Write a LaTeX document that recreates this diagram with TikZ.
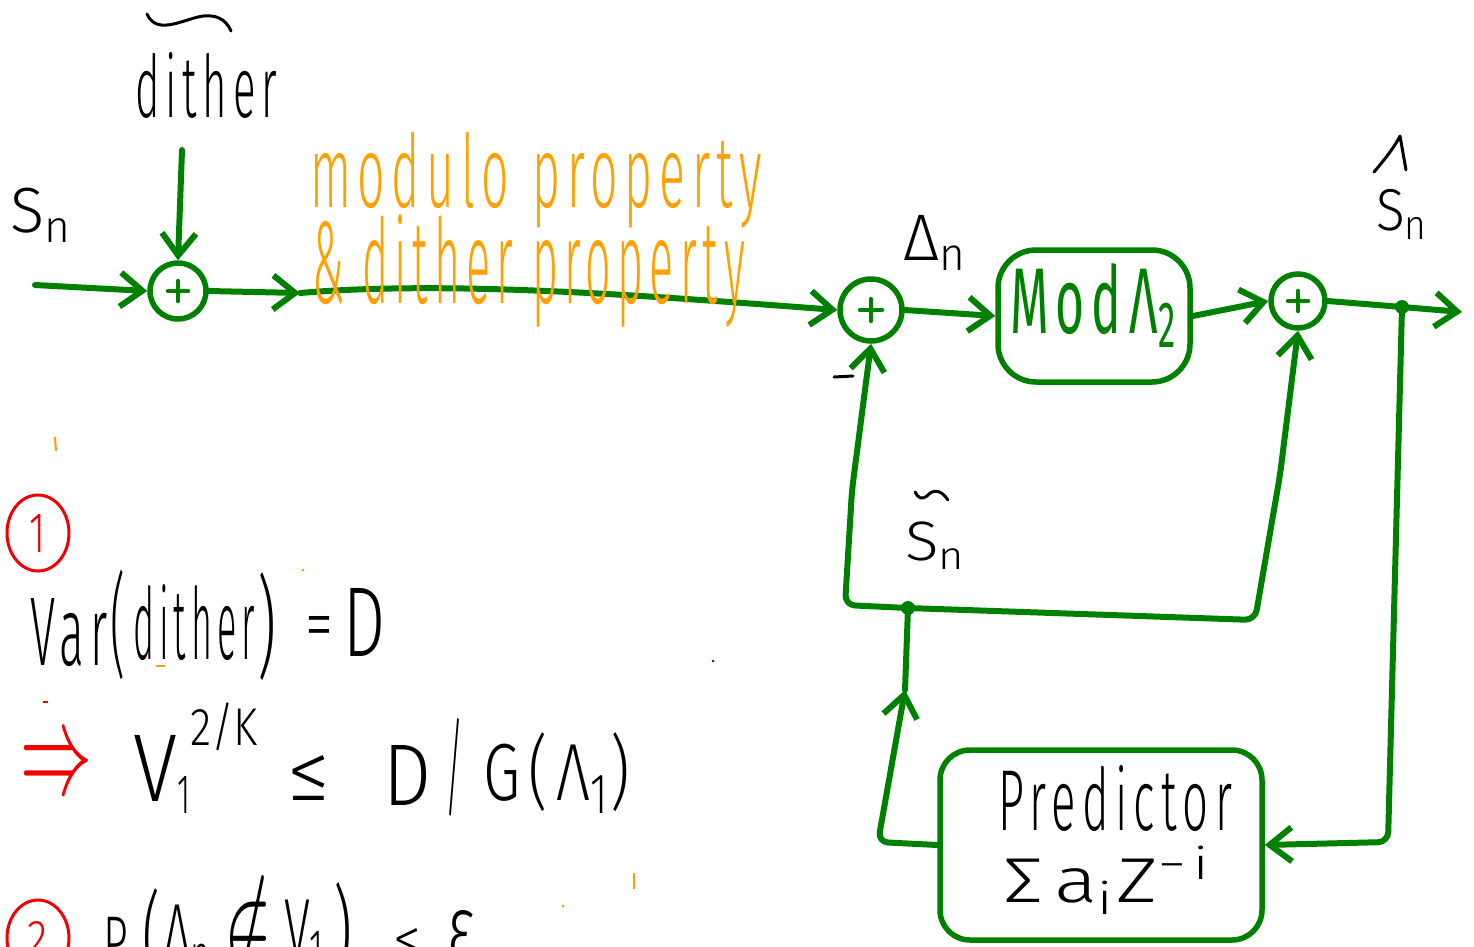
\documentclass[tikz,border=0pt]{standalone}
\usepackage{fontspec}
\usepackage{amssymb}
\setmainfont{Fira Sans Light}
\newfontfamily\firareg{Fira Sans}
\usetikzlibrary{arrows.meta,calc,shapes.geometric}
\definecolor{grn}{RGB}{0,128,0}
\definecolor{org}{RGB}{255,160,0}
\definecolor{rd}{RGB}{240,0,0}
\newcommand{\fitbx}[3]{\resizebox*{#1pt}{#2pt}{#3}}
\newcommand{\spc}{\addfontfeatures{LetterSpace=14}}
\tikzset{
  wire/.style={draw=grn,line width=6pt,line cap=round,line join=round},
  arr/.style={wire,-{Straight Barb[length=22pt,width=34pt]}},
  sumnode/.style={circle,draw=grn,line width=5.5pt,inner sep=0pt},
  blk/.style={draw=grn,line width=5.5pt,rounded corners=38pt,inner sep=0pt},
  txt/.style={inner sep=0pt,outer sep=0pt,anchor=north west},
  ink/.style={draw=black,line width=3pt,line cap=round,line join=round},
  dotn/.style={circle,fill=grn,inner sep=0pt,minimum size=14pt},
  circ/.style={draw=rd,line width=3pt,ellipse,inner sep=0pt,text=rd,minimum width=62pt,minimum height=76pt},
}
\begin{document}
\begin{tikzpicture}[x=1pt,y=-1pt]
\useasboundingbox (0,0) rectangle (1474,946);
% summing junctions
\node[sumnode,minimum size=56pt] (s1) at (178,291) {};
\node[sumnode,minimum size=62pt] (s2) at (871,310) {};
\node[sumnode,minimum size=54pt] (s3) at (1298,301) {};
\foreach \s/\r in {s1/10,s2/11,s3/10}{
  \draw[wire,line width=4.5pt] ([xshift=-\r pt]\s.center) -- ([xshift=\r pt]\s.center);
  \draw[wire,line width=4.5pt] ([yshift=-\r pt]\s.center) -- ([yshift=\r pt]\s.center);
}
% blocks
\node[blk,minimum width=192pt,minimum height=132pt] (mod) at (1094,316) {};
\node[txt,text=grn] (lmod) at (1010,263) {\firareg\spc\fitbx{168}{84}{Mod\,Λ\textsubscript{2}}};
\node[blk,rounded corners=30pt,minimum width=322pt,minimum height=190pt] (pred) at (1101,845) {};
\node[txt] (lpr) at (998,765) {\spc\fitbx{234}{66}{Predictor}};
\node[txt] (lsum) at (1003,846) {\spc\fitbx{210}{68}{Σa\textsubscript{i}Z\textsuperscript{−i}}};
% coordinates
\coordinate (in) at (35,285);
\coordinate (dsrc) at (182,150);
\coordinate (m1) at (300,293);
\coordinate (out) at (1462,312);
\coordinate (j1) at (1402,307);
\coordinate (j2) at (908,608);
\coordinate (r1) at (1388,842);
\coordinate (l1) at (878,842);
\coordinate (m2) at (905,690);
\coordinate (c1) at (845,605);
\coordinate (c2) at (852,490);
\coordinate (c3) at (1255,620);
\coordinate (c4) at (1280,475);
% connectors
\draw[arr] (in) -- (s1.west);
\draw[arr] (dsrc) -- (s1.north);
\draw[arr] (s1.east) -- (m1);
\draw[arr] (m1) .. controls (450,280) and (650,296) .. (s2.west);
\draw[arr] (s2.east) -- (mod.west);
\draw[arr] (mod.east) -- (s3.west);
\draw[arr] (s3.east) -- (j1) -- (out);
\draw[arr,rounded corners=10pt] (j1) -- (r1) -- (pred.east);
\draw[arr,rounded corners=10pt] (pred.west) -- (l1) -- (m2);
\draw[wire] (m2) -- (j2);
\draw[arr,rounded corners=10pt] (j2) -- (c1) -- (c2) -- (s2.south);
\draw[arr,rounded corners=10pt] (j2) -- (c3) -- (c4) -- (s3.south);
\node[dotn] (d1) at (j1) {};
\node[dotn] (d2) at (j2) {};
% labels
\node[txt] (ldith) at (135,52) {\spc\fitbx{142}{66}{dither}};
\draw[ink] (147,14) .. controls (156,34) and (178,22) .. (198,17) .. controls (215,13) and (226,19) .. (231,31);
\node[txt] (lsin) at (10,188) {\fitbx{63}{54}{S\textsubscript{n}}};
\node[txt] (ldn) at (903,215) {\fitbx{65}{55}{Δ\textsubscript{n}}};
\draw[ink] (1374,172) .. controls (1386,158) and (1395,146) .. (1400,136) -- (1406,170);
\node[txt] (lsh) at (1376,189) {\fitbx{53}{50}{S\textsubscript{n}}};
\draw[ink] (915,492) .. controls (918,498) and (922,500) .. (927,496) .. controls (932,490) and (940,488) .. (948,500);
\node[txt] (lst) at (905,522) {\fitbx{62}{47}{S\textsubscript{n}}};
\draw[ink] (834,377) -- (853,376);
% orange notes
\node[txt,text=org] (lmp) at (310,132) {\spc\fitbx{452}{96}{modulo\hspace{0.5em}property}};
\node[txt,text=org] (ldp) at (312,215) {\spc\fitbx{433}{113}{\&\hspace{0.4em}dither property}};
% (1)
\node[circ] (cr1) at (38,533) {\fitbx{16}{38}{1}};
\node[txt] (va1) at (30,598) {\spc\fitbx{78}{68}{Var}};
\node[txt] (va2) at (110,570) {\fitbx{15}{110}{(}};
\node[txt] (va3) at (133,585) {\spc\fitbx{122}{76}{dither}};
\node[txt] (va4) at (257,573) {\fitbx{19}{108}{)}};
\node[txt] (va5) at (305,616) {\fitbx{28}{33}{=}};
\node[txt] (va6) at (343,588) {\fitbx{42}{68}{D}};
% implication
\node[txt,text=rd] (limp) at (20,745) {\fitbx{72}{48}{$\Rightarrow$}};
\node[txt] (lv1) at (133,735) {\fitbx{44}{66}{V}};
\node[txt] (lv2) at (177,776) {\fitbx{13}{37}{1}};
\node[txt] (lv3) at (190,703) {\fitbx{68}{48}{2/K}};
\node[txt] (lv4) at (287,755) {\fitbx{43}{45}{≤}};
\node[txt] (lv5) at (383,745) {\fitbx{48}{60}{D}};
\node[txt] (lv6) at (445,718) {\fitbx{18}{98}{/}};
\node[txt] (lv7) at (483,733) {\spc\fitbx{147}{80}{G(Λ\textsubscript{1})}};
% (2)
\node[circ] (cr2) at (38,938) {\fitbx{20}{34}{2}};
\node[txt] (lp1) at (103,917) {\fitbx{38}{60}{P\textsubscript{r}}};
\node[txt] (lp2) at (142,888) {\fitbx{18}{100}{(}};
\node[txt] (lp3) at (163,905) {\fitbx{50}{70}{Δ\textsubscript{n}}};
\node[txt] (lp4) at (224,875) {\fitbx{48}{100}{$\notin$}};
\node[txt] (lp5) at (284,900) {\fitbx{42}{70}{V\textsubscript{1}}};
\node[txt] (lp6) at (333,882) {\fitbx{19}{100}{)}};
\node[txt] (lp7) at (393,928) {\fitbx{28}{30}{<}};
\node[txt] (lp8) at (447,910) {\fitbx{28}{50}{ε}};
% stray marks
\draw[org,line width=2pt] (55,437) -- (56,451);
\fill[org] (303,570) circle (1.5pt);
\draw[org,line width=2.5pt] (156,666) -- (165,666);
\draw[rd,line width=2.5pt] (43,702) -- (48,702);
\fill[blue] (713,661) circle (1.3pt);
\fill[org] (563,906) circle (1.5pt);
\draw[org,line width=2pt] (634,873) -- (634,889);
\end{tikzpicture}
\end{document}
